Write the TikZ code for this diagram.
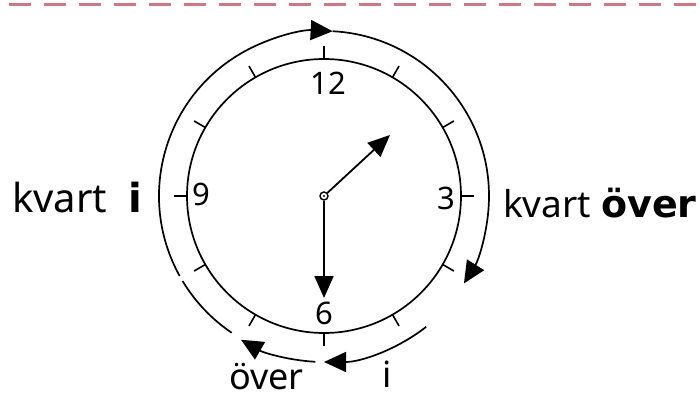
\documentclass[tikz,border=0pt]{standalone}
\usepackage{fontspec}
\setmainfont{Noto Sans}
\newfontfamily\heavy{DejaVu Sans}
\usepackage{tikz}
\usetikzlibrary{positioning, arrows.meta, calc}
\definecolor{dashpink}{RGB}{205,120,135}
\tikzset{
    dial/.style={
        line width=1.7pt,
        black
    },
    tickmark/.style={
        line width=1.6pt
    },
    hand/.style={
        line width=1.8pt,
        -{Triangle[length=22pt,width=19pt]}
    },
    sweep/.style={
        line width=1.7pt
    },
    sweeparrow/.style={
        line width=1.7pt,
        -{Triangle[length=22pt,width=20pt]}
    },
    numeral/.style={
        font=\fontsize{31}{32}\selectfont,
        inner sep=0pt
    },
    word/.style={
        inner sep=0pt,
        anchor=base west
    }
}

\begin{document}
\begin{tikzpicture}[x=1pt,y=1pt]
\useasboundingbox (0,0) rectangle (700,399);

%---------------- Top line ----------------

\coordinate (ruleL) at (9,394);
\coordinate (ruleR) at (700,394);
\draw[dashpink, line width=3pt, dash pattern=on 22pt off 13pt] (ruleL) -- (ruleR);

%---------------- Clock face ----------------

\coordinate (C) at (324,203);
\draw[dial] (C) circle[radius=137];
\foreach \a in {0,30,...,330}
    \draw[tickmark] ([shift={(\a:137)}]C) -- ([shift={(\a:150)}]C);

\node[numeral] (n12) at (328,316) {12};
\node[numeral] (n3) at (446,201) {3};
\node[numeral] (n9) at (201,205) {9};
\node[numeral] (n6) at (324,86) {6};

%---------------- Hands ----------------

\node[circle, draw, line width=1.4pt, inner sep=0pt, minimum size=8pt] (pivot) at (C) {};
\fill (C) circle[radius=1.2];
\coordinate (hourtip) at (390,264);
\coordinate (minutetip) at (324,101);
\draw[hand] (pivot) -- (hourtip);
\draw[hand] (pivot) -- (minutetip);

%---------------- Sweeps ----------------

\draw[sweep] ([shift={(236:165)}]C) arc[start angle=236, end angle=211, radius=165];
\draw[sweeparrow] ([shift={(209:165)}]C) arc[start angle=209, end angle=87, radius=165];
\draw[sweeparrow] ([shift={(87:165)}]C) arc[start angle=87, end angle=-32, radius=165];
\draw[sweeparrow] ([shift={(-52:166)}]C) arc[start angle=-52, end angle=-90, radius=166];
\draw[sweeparrow] ([shift={(-93:166)}]C) arc[start angle=-93, end angle=-120, radius=166];

%---------------- Labels ----------------

\node[word, font=\fontsize{40}{44}\selectfont] (kvartL) at (12,186) {kvart};
\node[word, font=\fontsize{40}{44}\selectfont\heavy\bfseries] (iL) at (128,186) {i};
\node[word, font=\fontsize{37}{40}\selectfont] (kvartR) at (503,182) {kvart};
\node[word, font=\fontsize{38}{42}\selectfont\heavy\bfseries] (overR) at (601,182) {över};
\node[word, font=\fontsize{36}{40}\selectfont] (overB) at (229,10) {över};
\node[word, font=\fontsize{36}{40}\selectfont] (iB) at (382,12) {i};

\end{tikzpicture}
\end{document}
